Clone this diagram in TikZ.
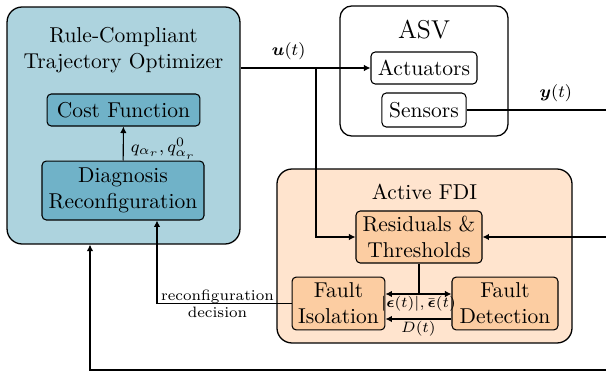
\documentclass[tikz,border=0pt]{standalone}
\usepackage{amsmath}
\usetikzlibrary{positioning,arrows.meta}
\definecolor{optblue}{RGB}{173,211,222}
\definecolor{optinner}{RGB}{112,178,200}
\definecolor{fdiback}{RGB}{255,228,206}
\definecolor{fdiinner}{RGB}{252,205,162}

\begin{document}
\begin{tikzpicture}[
      x=0.465pt, y=-0.465pt,
      group/.style={draw, line width=0.6pt, rounded corners=7pt},
      block/.style={draw, line width=0.5pt, rounded corners=2pt, align=center, inner sep=1pt},
      link/.style={-{Latex[length=3pt,width=3pt]}, line width=0.5pt},
      wire/.style={line width=0.5pt},
      sig/.style={font=\footnotesize},
      small/.style={font=\fontsize{6.6}{7.5}\selectfont, inner sep=1pt}
    ]
      \useasboundingbox (0,0) rectangle (606,374);

      % optimizer
      \node[group, fill=optblue, minimum width=108.3pt, minimum height=110.2pt] (opt) at (123.5,125.5) {};
      \node[align=center] (optname) at (123.5,50) {Rule-Compliant\\Trajectory Optimizer};
      \node[block, fill=optinner, minimum width=71.1pt, minimum height=14.9pt] (cost) at (123.5,110) {Cost Function};
      \node[block, fill=optinner, minimum width=75.3pt, minimum height=27.4pt] (diag) at (123,190.5) {Diagnosis\\Reconfiguration};

      % ASV
      \node[group, fill=white, rounded corners=5.5pt, minimum width=78.1pt, minimum height=60.5pt] (asv) at (424,71) {};
      \node[font=\large] (asvname) at (424,30) {ASV};
      \node[block, fill=white, minimum width=49.3pt, minimum height=14.9pt] (act) at (424,68) {Actuators};
      \node[block, fill=white, minimum width=39.1pt, minimum height=15.8pt] (sens) at (424,110) {Sensors};

      % active FDI
      \node[group, fill=fdiback, minimum width=137.2pt, minimum height=80.9pt] (fdi) at (424.5,256) {};
      \node (fdiname) at (424.5,192) {Active FDI};
      \node[block, fill=fdiinner, minimum width=58.6pt, minimum height=24.2pt] (res) at (419,237) {Residuals \&\\Thresholds};
      \node[block, fill=fdiinner, minimum width=43.2pt, minimum height=24.6pt] (iso) at (338.5,303.5) {Fault\\Isolation};
      \node[block, fill=fdiinner, minimum width=49.3pt, minimum height=24.6pt] (det) at (505,303.5) {Fault\\Detection};

      % turning points and free ends
      \coordinate (ubranch) at (316,68);
      \coordinate (yout) at (606,110);
      \coordinate (yin) at (606,237);
      \coordinate (fbin) at (606,370);
      \coordinate (fbturn) at (90,370);
      \coordinate (rcturn) at (157,303.5);
      \coordinate (rsplit) at (419,294);
      \coordinate (dline) at (419,319);

      \draw[link] (opt.east |- act.west) -- node[sig, above, pos=0.37] {$\boldsymbol{u}(t)$} (act.west);
      \draw[link] (ubranch) |- (res.west);
      \draw[wire] (sens.east) -- node[sig, above, pos=0.64] {$\boldsymbol{y}(t)$} (yout);
      \draw[link] (yin) -- (res.east);
      \draw[link] (fbin) -- (fbturn) -- (fbturn |- opt.south);
      \draw[link] (diag) -- node[sig, right, pos=0.35] {$q_{\alpha_r}, q^0_{\alpha_r}$} (cost);
      \draw[link] (iso.west) -- node[font=\scriptsize, align=center, pos=0.55] {reconfiguration\\decision} (rcturn) -- (rcturn |- diag.south);
      \draw[wire] (res.south) -- (rsplit);
      \draw[{Latex[length=3pt,width=3pt]}-{Latex[length=3pt,width=3pt]}, line width=0.5pt] (iso.east |- rsplit) -- node[below, small] {$|\boldsymbol{\epsilon}(t)|, \bar{\boldsymbol{\epsilon}}(t)$} (det.west |- rsplit);
      \draw[link] (det.west |- dline) -- node[below, small] {$D(t)$} (iso.east |- dline);
    \end{tikzpicture}
\end{document}
